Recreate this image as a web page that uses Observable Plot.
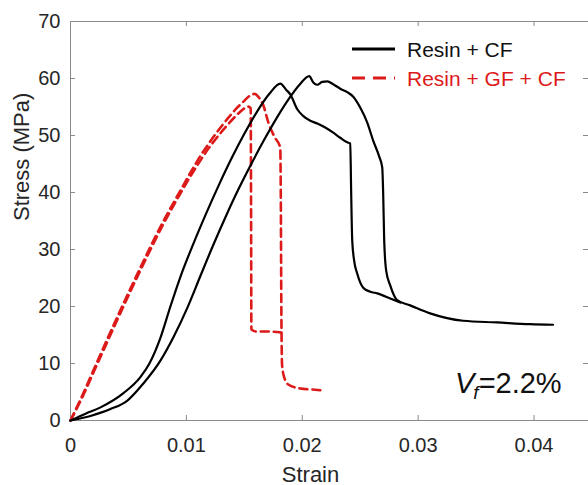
<!DOCTYPE html>
<html>
<head>
<meta charset="utf-8">
<script src="https://cdn.jsdelivr.net/npm/d3@7"></script>
<script src="https://cdn.jsdelivr.net/npm/@observablehq/plot@0.6"></script>
<style>
  html, body { margin: 0; padding: 0; background: #fff; overflow: hidden; }
  svg { display: block; }
</style>
</head>
<body>
<div id="chart"></div>
<script>
// ---------- data ----------
const seriesNames = ["Resin + CF", "Resin + GF + CF"];
const xTicks = [0, 0.01, 0.02, 0.03, 0.04];
const yTicks = [0, 10, 20, 30, 40, 50, 60, 70];
const xLabel = "Strain";
const yLabel = "Stress (MPa)";
const annotationValue = "=2.2%";

// Resin + CF, specimen 1
const cf1Strain = [0, 0.0013, 0.00259, 0.00457, 0.00603, 0.00681, 0.00776, 0.00862, 0.0095, 0.0106, 0.0117, 0.0128, 0.0139, 0.015, 0.0161, 0.0172, 0.0181, 0.01862, 0.01897, 0.01957, 0.02009, 0.0207, 0.0213, 0.02198, 0.02267, 0.02328, 0.02388, 0.02414, 0.02422, 0.02431, 0.02448, 0.02474, 0.02526, 0.02586, 0.02647, 0.02759, 0.02845];
const cf1Stress = [0, 1.2, 2.3, 4.8, 7.6, 10, 14.5, 20, 25.3, 31, 36.3, 41.3, 46, 50.3, 54.2, 57.4, 59.1, 58.0, 57.2, 54.6, 53.4, 52.6, 52.1, 51.4, 50.5, 49.6, 48.8, 48.6, 40, 31.6, 28, 25.8, 23.3, 22.6, 22.3, 21.4, 20.7];

// Resin + CF, specimen 2
const cf2Strain = [0, 0.00172, 0.00345, 0.00491, 0.00629, 0.00776, 0.00888, 0.01009, 0.0112, 0.0123, 0.0134, 0.0145, 0.0156, 0.0167, 0.0178, 0.0189, 0.0198, 0.0206, 0.02095, 0.02129, 0.02172, 0.02216, 0.02267, 0.02328, 0.02388, 0.0244, 0.025, 0.0256, 0.02612, 0.02664, 0.0269, 0.02698, 0.02707, 0.02724, 0.02759, 0.02819, 0.02931, 0.03103, 0.03388, 0.03681, 0.03966, 0.04164];
const cf2Stress = [0, 0.8, 2.0, 3.5, 6.5, 10.5, 14.6, 19.8, 25.3, 30.7, 35.8, 40.6, 45.0, 49.2, 53.1, 56.6, 59.0, 60.4, 59.3, 58.9, 59.4, 59.5, 59.0, 58.2, 57.6, 56.8, 54.9, 52.3, 49.1, 46.3, 44.4, 40, 31.6, 26.3, 23.7, 21.1, 20.2, 18.8, 17.5, 17.2, 16.9, 16.8];

// Resin + GF + CF, specimen 1
const gf1Strain = [0, 0.001, 0.002, 0.003, 0.004, 0.005, 0.006, 0.007, 0.008, 0.009, 0.0095, 0.0101, 0.0107, 0.0113, 0.0119, 0.0125, 0.0131, 0.0137, 0.0143, 0.0149, 0.0155, 0.0159, 0.0162, 0.01664, 0.01707, 0.01759, 0.0181, 0.01815, 0.01819, 0.01826, 0.01845, 0.01879, 0.01983, 0.02086, 0.02181];
const gf1Stress = [0, 4.3, 8.9, 13.5, 18.0, 22.4, 26.7, 30.9, 34.9, 38.6, 40.4, 42.6, 44.7, 46.7, 48.5, 50.2, 51.8, 53.3, 54.7, 55.9, 57.0, 57.3, 56.8, 55.3, 52.3, 49.8, 47.9, 38.6, 21.05, 9.65, 7.54, 6.32, 5.61, 5.44, 5.26];

// Resin + GF + CF, specimen 2
const gf2Strain = [0, 0.001, 0.002, 0.003, 0.004, 0.005, 0.006, 0.007, 0.008, 0.009, 0.0095, 0.0101, 0.0107, 0.0113, 0.0119, 0.0125, 0.0131, 0.0137, 0.0143, 0.0149, 0.01526, 0.01555, 0.01558, 0.01561, 0.01603, 0.01707, 0.01819];
const gf2Stress = [0, 4.0, 8.5, 13.0, 17.5, 21.9, 26.2, 30.4, 34.4, 38.1, 39.9, 42.0, 44.0, 45.9, 47.7, 49.3, 50.8, 52.2, 53.5, 54.6, 55.1, 54.8, 38.6, 15.96, 15.61, 15.61, 15.44];

// ---------- build tables ----------
function rows(strain, stress, specimen) {
  return strain.map((s, i) => ({strain: s, stress: stress[i], specimen}));
}
const cfRows = [...rows(cf1Strain, cf1Stress, "cf1"), ...rows(cf2Strain, cf2Stress, "cf2")];
const gfRows = [...rows(gf1Strain, gf1Stress, "gf1"), ...rows(gf2Strain, gf2Stress, "gf2")];

// ---------- layout / style ----------
const W = 588, H = 485;
const mL = 70, mT = 21, mB = 65, mR = 0;
const plotW = W - mL - mR, plotH = H - mT - mB;
const font = "'Liberation Sans', Arial, Helvetica, sans-serif";
const red = "#dd1a1a";
const axisGray = "#8a8a8a";

const plot = Plot.plot({
  width: W,
  height: H,
  marginLeft: mL,
  marginTop: mT,
  marginBottom: mB,
  marginRight: mR,
  style: {fontFamily: font, color: "#262626", background: "#fff", overflow: "hidden"},
  x: {domain: [0, 0.0447]},
  y: {domain: [0, 70]},
  marks: [
    Plot.frame({stroke: axisGray, strokeWidth: 1}),
    // inward ticks (bottom, top, left, right)
    Plot.tickX(xTicks, {x: d => d, stroke: axisGray, insetTop: plotH - 5}),
    Plot.tickX(xTicks, {x: d => d, stroke: axisGray, insetBottom: plotH - 5}),
    Plot.tickY(yTicks, {y: d => d, stroke: axisGray, insetRight: plotW - 5}),
    Plot.tickY(yTicks, {y: d => d, stroke: axisGray, insetLeft: plotW - 5}),
    Plot.axisX(xTicks, {tickSize: 0, tickPadding: 17, fontSize: 20, tickFormat: d => String(d), label: null}),
    Plot.axisY(yTicks, {tickSize: 0, tickPadding: 10, fontSize: 20, tickFormat: d => String(d), label: null}),
    Plot.text([xLabel], {frameAnchor: "bottom", dy: 61, dx: -19, fontSize: 22, fill: "#262626"}),
    Plot.text([yLabel], {frameAnchor: "left", rotate: -90, dx: -49, fontSize: 22, fill: "#262626"}),
    Plot.line(gfRows, {x: "strain", y: "stress", z: "specimen", curve: "monotone-x", stroke: red, strokeWidth: 2.6, strokeDasharray: "8,5"}),
    Plot.line(cfRows, {x: "strain", y: "stress", z: "specimen", curve: "monotone-x", stroke: "#000", strokeWidth: 2.2})
  ]
});

document.getElementById("chart").appendChild(plot);

// ---------- legend ----------
const svg = d3.select(plot);
const legendStyles = [
  {color: "#000", dash: null, textColor: "#111"},
  {color: red, dash: "13,8", textColor: red}
];
const lg = svg.append("g")
  .attr("font-family", font).attr("font-size", 21).attr("text-anchor", "start");
seriesNames.forEach((name, i) => {
  const y = 49 + i * 29;
  const st = legendStyles[i];
  lg.append("line")
    .attr("x1", 352).attr("x2", 395).attr("y1", y).attr("y2", y)
    .attr("stroke", st.color).attr("stroke-width", 3.2)
    .attr("stroke-dasharray", st.dash);
  lg.append("text")
    .attr("x", 407).attr("y", y + 8)
    .attr("fill", st.textColor)
    .attr("text-anchor", "start")
    .text(name);
});

// ---------- V_f annotation ----------
const ann = svg.append("text")
  .attr("x", 455).attr("y", 393)
  .attr("text-anchor", "start")
  .attr("font-family", font).attr("font-size", 29).attr("fill", "#111");
ann.append("tspan").attr("font-style", "italic").text("V");
ann.append("tspan").attr("font-style", "italic").attr("font-size", 19).attr("dy", 6).attr("dx", -1).text("f");
ann.append("tspan").attr("dy", -6).attr("dx", 0).text(annotationValue);
</script>
</body>
</html>
